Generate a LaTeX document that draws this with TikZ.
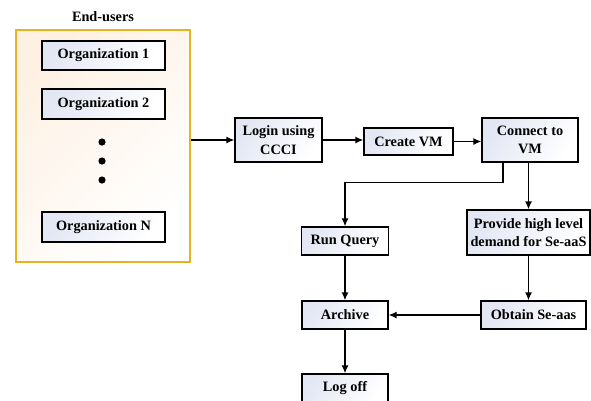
\documentclass[tikz,border=0pt]{standalone}
\usepackage{fontspec}
\setmainfont{Liberation Serif}
\usepackage{tikz}
\usetikzlibrary{positioning,arrows.meta,calc}
\definecolor{boxblue}{HTML}{E3E7F4}
\definecolor{usergold}{HTML}{E6B422}
\definecolor{userpeach}{HTML}{FEF1E4}
\tikzstyle{stepbox} = [rectangle, draw=black, line width=1.3pt, shading=axis, left color=boxblue, right color=white, shading angle=60, text centered, align=center, inner sep=0pt, font=\bfseries\fontsize{14.3}{18.5}\selectfont]
\tikzstyle{users} = [rectangle, draw=usergold, line width=1.8pt, shading=axis, left color=userpeach, right color=white, shading angle=45, inner sep=0pt]
\tikzstyle{arrow} = [line width=1.3pt,-{Latex[length=8pt,width=7pt]}]

\begin{document}
\begin{tikzpicture}[x=1pt, y=-1pt]
    \useasboundingbox (0,0) rectangle (591,400);
    \node[font=\bfseries\fontsize{14.3}{18}\selectfont] (title) at (103,17) {End-users};
    \node[users, minimum width=174pt, minimum height=232pt] (endusers) at (103,146) {};
    \node[stepbox, minimum width=123pt, minimum height=29pt] (org1) at (103.5,55.5) {Organization 1};
    \node[stepbox, minimum width=123pt, minimum height=30pt] (org2) at (103.5,104) {Organization 2};
    \node[stepbox, minimum width=123pt, minimum height=30pt] (orgN) at (103.5,227) {Organization N};
    \foreach \y in {142,161,180}
        \fill (102,\y) circle (3.6pt);
    \node[stepbox, minimum width=87pt, minimum height=44pt] (login) at (278.5,140) {Login using\\CCCI};
    \node[stepbox, minimum width=89pt, minimum height=27pt] (create) at (408.5,141.5) {Create VM};
    \node[stepbox, minimum width=96pt, minimum height=44pt] (connect) at (530,140) {Connect to\\VM};
    \node[stepbox, minimum width=123pt, minimum height=45pt] (provide) at (528.5,232.5) {Provide high level\\demand for Se-aaS};
    \node[stepbox, minimum width=87pt, minimum height=28pt] (runq) at (345,241) {Run Query};
    \node[stepbox, minimum width=86pt, minimum height=28pt] (archive) at (345,315) {Archive};
    \node[stepbox, minimum width=105pt, minimum height=28pt] (obtain) at (533.5,315) {Obtain Se-aas};
    \node[stepbox, minimum width=86pt, minimum height=28pt] (logoff) at (345,388) {Log off};
    \draw[arrow] (endusers.east |- login) -- (login);
    \draw[arrow] (login) -- (login -| create.west);
    \draw[arrow] (create) -- (create -| connect.west);
    \draw[arrow] ([xshift=-27pt]connect.south) -- ++(0,20) -| (runq);
    \draw[arrow] ([xshift=-1.5pt]connect.south) -- ([xshift=-1.5pt]connect.south |- provide.north);
    \draw[arrow] (provide.south) -- (provide.south |- obtain.north);
    \draw[arrow] (obtain) -- (archive);
    \draw[arrow] (runq) -- (archive);
    \draw[arrow] (archive) -- (logoff);
\end{tikzpicture}
\end{document}
